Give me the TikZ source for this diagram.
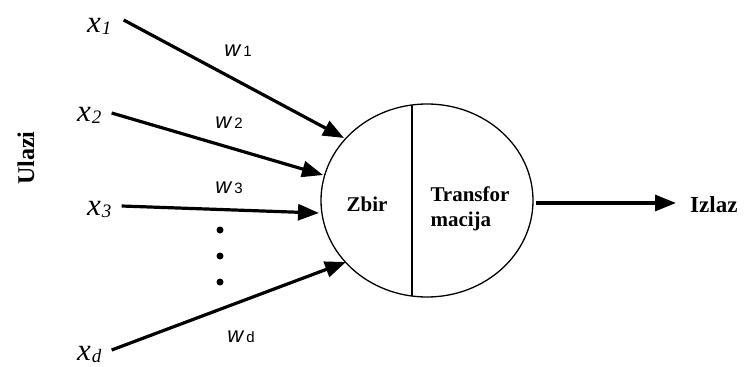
\documentclass[tikz,border=0pt]{standalone}
\usepackage{fontspec}
\setmainfont{Liberation Serif}
\newfontfamily\wsans{Liberation Sans}
\usetikzlibrary{arrows.meta,shapes.geometric}
\tikzset{
  inp/.style={font=\fontsize{31}{31}\selectfont\itshape, inner sep=0pt},
  wlab/.style={font=\wsans\fontsize{22}{22}\selectfont, inner sep=0pt},
  big/.style={font=\bfseries\fontsize{21}{25}\selectfont, inner sep=0pt, align=left},
  conn/.style={line width=3.2pt, -{Triangle[length=21pt,width=16pt]}},
  dot/.style={circle, fill=black, inner sep=0pt, minimum size=7pt}
}
\newcommand{\xs}[1]{x\kern1pt{\fontsize{19}{19}\selectfont\raisebox{-2pt}{#1}}}
\newcommand{\ws}[1]{\textit{w}\kern2pt{\fontsize{15}{15}\selectfont #1}}
\begin{document}
\begin{tikzpicture}[x=1pt,y=-1pt]
\useasboundingbox (0,0) rectangle (745,367);
% neuron
\node[ellipse, draw, line width=1.3pt, minimum width=212pt, minimum height=193pt, inner sep=0pt] (n) at (427,200.5) {};
\draw[line width=1.2pt] (412,105) coordinate (dt) -- (412,296) coordinate (db);
\node[big] (zb) at (367,204) {Zbir};
\node[big] (tr) at (470,209) {Transfor\\macija};
% inputs
\node[inp, anchor=base west] (x1) at (87,32) {\xs{1}};
\node[inp, anchor=base west] (x2) at (77,121) {\xs{2}};
\node[inp, anchor=base west] (x3) at (87,215) {\xs{3}};
\node[inp, anchor=base west] (xd) at (77,360) {\xs{d}};
\coordinate (t1) at (344,138);
\coordinate (t2) at (323,175);
\coordinate (t3) at (319,213);
\coordinate (td) at (346,262);
\draw[conn] (x1.east |- 0,20) ++(12,0) -- (t1);
\draw[conn] (x2.east |- 0,113) ++(10,0) -- (t2);
\draw[conn] (x3.east |- 0,206) ++(10,0) -- (t3);
\draw[conn] (xd.east |- 0,350) ++(10,0) -- (td);
% weights
\node[wlab] (w1) at (238,51) {\ws{1}};
\node[wlab] (w2) at (229,123) {\ws{2}};
\node[wlab] (w3) at (229,188) {\ws{3}};
\node[wlab] (wd) at (241,337) {\ws{d}};
% dots
\node[dot] (d1) at (220,230) {};
\node[dot] (d2) at (220,256) {};
\node[dot] (d3) at (220,282) {};
% output
\node[big, font=\bfseries\fontsize{23}{25}\selectfont, anchor=west] (out) at (690,205) {Izlaz};
\coordinate (oe) at (536,203);
\draw[conn] (oe) -- ([xshift=-14pt]out.west |- oe);
% Ulazi
\node[big, font=\bfseries\fontsize{24}{25}\selectfont, rotate=90] (ul) at (26,158) {Ulazi};
\end{tikzpicture}
\end{document}
